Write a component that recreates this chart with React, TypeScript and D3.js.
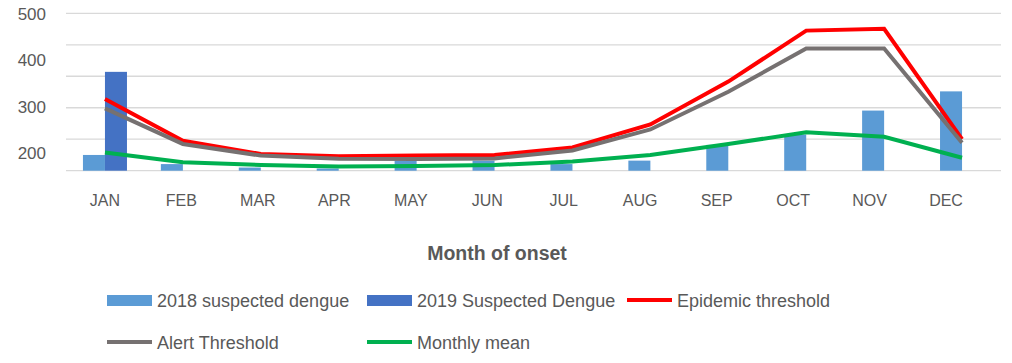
import * as d3 from "d3";

const WIDTH = 1012;
const HEIGHT = 363;
const PLOT = { left: 66, right: 1001, top: 13.3, bottom: 170.7 };

const months = ["JAN", "FEB", "MAR", "APR", "MAY", "JUN", "JUL", "AUG", "SEP", "OCT", "NOV", "DEC"];

// bar series
const suspected2018 = [50, 21, 10, 7, 32, 32, 21, 32, 82, 115, 191, 252];
const suspected2019 = [314, 0, 0, 0, 0, 0, 0, 0, 0, 0, 0, 0];

// line series
const epidemicThreshold = [228, 95, 53, 46, 48, 50, 74, 147, 283, 445, 451, 100];
const alertThreshold = [198, 85, 48, 38, 37, 39, 64, 131, 251, 388, 388, 89];
const monthlyMean = [58, 27, 18, 13, 15, 18, 29, 50, 85, 122, 108, 41];

const gridTicks = [0, 100, 200, 300, 400, 500];
const yTickLabels = [200, 300, 400, 500];

const FONT = "'Liberation Sans', Arial, sans-serif";
const TEXT = "#595959";

const barSeries = [
  { name: "2018 suspected dengue", values: suspected2018, color: "#5B9BD5" },
  { name: "2019 Suspected Dengue", values: suspected2019, color: "#4472C4" },
];
const lineSeries = [
  { name: "Epidemic threshold", values: epidemicThreshold, color: "#FF0000" },
  { name: "Alert Threshold", values: alertThreshold, color: "#767171" },
  { name: "Monthly mean", values: monthlyMean, color: "#00B050" },
];

export default function App() {
  const x = d3.scaleBand().domain(months).range([PLOT.left, PLOT.right]);
  const xSub = d3
    .scaleBand()
    .domain(barSeries.map((s) => s.name))
    .range([0, x.bandwidth()])
    .paddingOuter(0.77);
  const y = d3.scaleLinear().domain([0, 500]).range([PLOT.bottom, PLOT.top]);

  // the printed tick labels don't sit on the gridlines in the original
  const yLabel = d3.scaleLinear().domain([200, 500]).range([153, 14]);
  const xLabel = d3
    .scalePoint()
    .domain(months)
    .range([(x("JAN") ?? 0) + x.bandwidth() / 2, (x("DEC") ?? 0) + x.bandwidth() / 2 - 16]);

  const center = (m: string) => (x(m) ?? 0) + x.bandwidth() / 2;

  const line = d3
    .line<number>()
    .x((_, i) => center(months[i]))
    .y((d) => y(d));

  const legendRows = [
    [
      { kind: "bar", s: barSeries[0], x: 107 },
      { kind: "bar", s: barSeries[1], x: 367 },
      { kind: "line", s: lineSeries[0], x: 627 },
    ],
    [
      { kind: "line", s: lineSeries[1], x: 107 },
      { kind: "line", s: lineSeries[2], x: 367 },
    ],
  ];
  const legendY = [301, 343];

  return (
    <svg
      width={WIDTH}
      height={HEIGHT}
      style={{ position: "absolute", left: 0, top: 0, background: "#fff" }}
    >
      <g>
        {gridTicks.map((t) => (
          <line
            key={t}
            x1={PLOT.left}
            x2={PLOT.right}
            y1={y(t)}
            y2={y(t)}
            stroke="#D9D9D9"
            strokeWidth={1.3}
          />
        ))}
      </g>

      <g fontFamily={FONT} fontSize={17} fill={TEXT} textAnchor="end">
        {yTickLabels.map((t) => (
          <text key={t} x={46} y={yLabel(t)} dy="0.35em">
            {t}
          </text>
        ))}
      </g>

      <g>
        {barSeries.map((s) =>
          s.values.map((v, i) =>
            v > 0 ? (
              <rect
                key={s.name + i}
                x={(x(months[i]) ?? 0) + (xSub(s.name) ?? 0)}
                width={xSub.bandwidth()}
                y={y(v)}
                height={y(0) - y(v)}
                fill={s.color}
              />
            ) : null
          )
        )}
      </g>

      <g fill="none">
        {lineSeries.map((s) => (
          <path
            key={s.name}
            d={line(s.values) ?? ""}
            stroke={s.color}
            strokeWidth={4}
            strokeLinejoin="miter"
          />
        ))}
      </g>

      <g fontFamily={FONT} fontSize={16} fill={TEXT} textAnchor="middle">
        {months.map((m) => (
          <text key={m} x={xLabel(m)} y={206}>
            {m}
          </text>
        ))}
      </g>

      <text
        x={497}
        y={260}
        fontFamily={FONT}
        fontSize={19.5}
        fontWeight="bold"
        fill={TEXT}
        textAnchor="middle"
      >
        Month of onset
      </text>

      <g fontFamily={FONT} fontSize={18} fill={TEXT}>
        {legendRows.map((row, r) =>
          row.map((item) => (
            <g key={item.s.name} transform={`translate(${item.x},${legendY[r]})`}>
              {item.kind === "bar" ? (
                <rect x={0} y={-6} width={45} height={11} fill={item.s.color} />
              ) : (
                <line x1={0} x2={45} y1={-1} y2={-1} stroke={item.s.color} strokeWidth={4} />
              )}
              <text x={50} y={0} dy="0.35em">
                {item.s.name}
              </text>
            </g>
          ))
        )}
      </g>
    </svg>
  );
}
